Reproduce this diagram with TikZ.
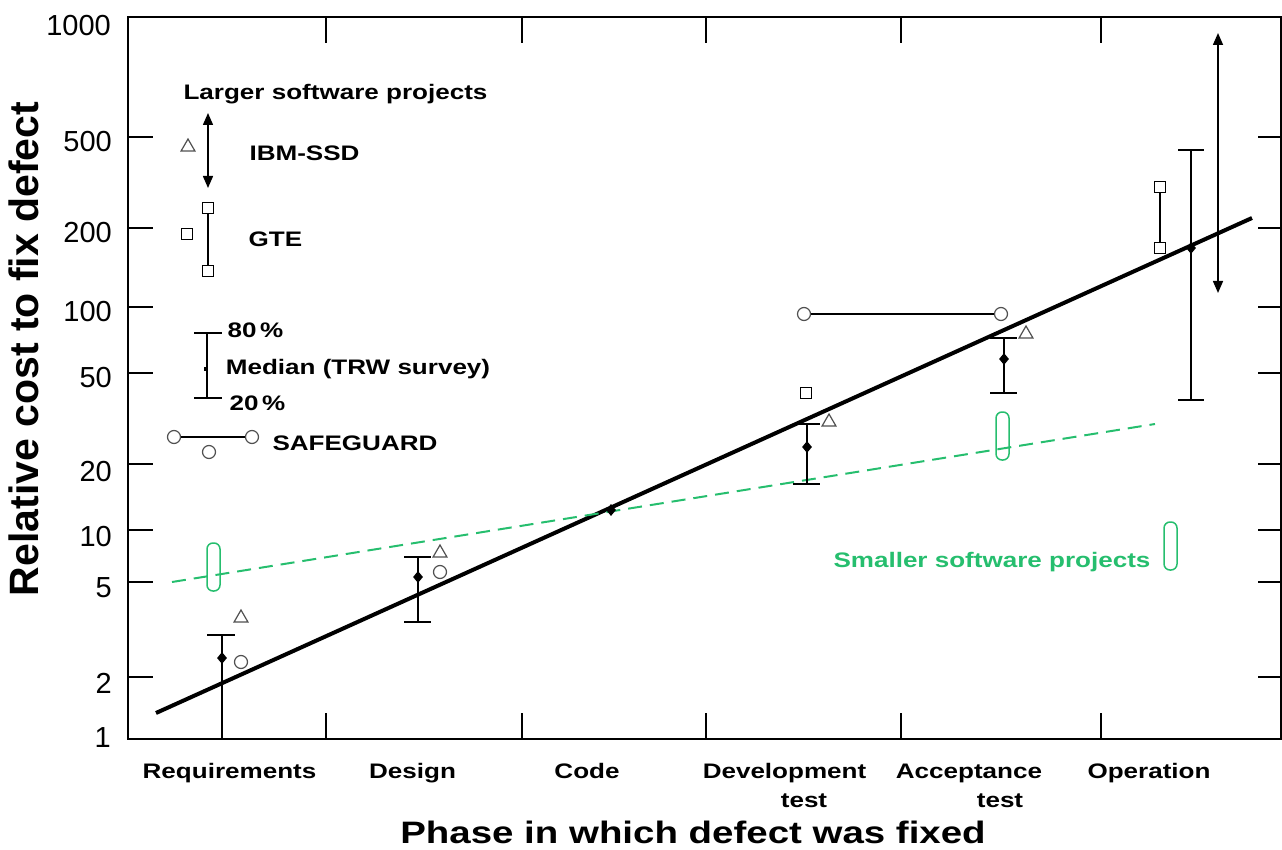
\documentclass[tikz,border=0pt]{standalone}
\usepackage{fontspec}
\setmainfont{Liberation Sans}
\newfontfamily\widefont[FakeStretch=1.24]{Liberation Sans}
\usetikzlibrary{shapes.geometric,arrows.meta}
\definecolor{mygreen}{RGB}{38,190,110}
\definecolor{mkgray}{RGB}{80,80,80}
\tikzset{
  lbl/.style={font=\widefont\bfseries\fontsize{21}{25}\selectfont, inner sep=0pt},
  plbl/.style={lbl, anchor=base},
  ylbl/.style={font=\fontsize{29}{33}\selectfont, inner sep=0pt, anchor=east},
  tri/.style={regular polygon, regular polygon sides=3, draw=mkgray, fill=white, minimum size=16pt, inner sep=0pt, line width=1.2pt},
  sq/.style={rectangle, draw=black, fill=white, minimum size=11pt, inner sep=0pt, line width=1.2pt},
  circ/.style={circle, draw=mkgray, fill=white, minimum size=13pt, inner sep=0pt, line width=1.2pt},
  dia/.style={diamond, fill=black, minimum width=10pt, minimum height=12pt, inner sep=0pt},
  grect/.style={rectangle, draw=mygreen, rounded corners=6pt, minimum width=13pt, minimum height=48pt, inner sep=0pt, line width=1.5pt},
  bar/.style={line width=1.5pt},
  axisline/.style={line width=2pt},
  dbl/.style={line width=1.5pt, {Triangle[length=12pt,width=10pt]}-{Triangle[length=12pt,width=10pt]}}
}
\begin{document}
\begin{tikzpicture}[x=1pt,y=-1pt]
\useasboundingbox (0,0) rectangle (1282,850);
% axes box
\draw[axisline] (128,17) rectangle (1281,739);
% x ticks
\foreach \xx in {326,522,706,901,1101}{
  \draw[axisline] (\xx,17) -- (\xx,43);
  \draw[axisline] (\xx,713) -- (\xx,739);
}
% y ticks
\foreach \yy in {137,228,307,373,464,530,582,677}{
  \draw[axisline] (128,\yy) -- (153,\yy);
  \draw[axisline] (1258,\yy) -- (1281,\yy);
}
% y labels
\node[ylbl] (y1000) at (111,26) {1000};
\node[ylbl] (y500) at (112,142) {500};
\node[ylbl] (y200) at (112,233) {200};
\node[ylbl] (y100) at (112,312) {100};
\node[ylbl] (y50) at (112,378) {50};
\node[ylbl] (y20) at (112,472) {20};
\node[ylbl] (y10) at (112,537) {10};
\node[ylbl] (y5) at (112,588) {5};
\node[ylbl] (y2) at (112,683) {2};
\node[ylbl] (y1) at (111,738) {1};
% axis titles
\node[rotate=90, font=\bfseries\fontsize{41}{48}\selectfont, inner sep=0pt] (ytitle) at (24,349) {Relative cost to fix defect};
\node[font=\widefont\bfseries\fontsize{31}{36}\selectfont, inner sep=0pt, anchor=base] (xtitle) at (693,843) {Phase in which defect was fixed};
% phase labels
\node[plbl] (pReq) at (229.5,778) {Requirements};
\node[plbl] (pDes) at (412.5,778) {Design};
\node[plbl] (pCode) at (587,778) {Code};
\node[plbl] (pDev) at (784.5,778) {Development};
\node[plbl] (pDev2) at (804,807) {test};
\node[plbl] (pAcc) at (969,778) {Acceptance};
\node[plbl] (pAcc2) at (1000,807) {test};
\node[plbl] (pOp) at (1149,778) {Operation};
% trend lines
\coordinate (bl1) at (156,713);
\coordinate (bl2) at (1252,218);
\draw[line width=4pt] (bl1) -- (bl2);
\coordinate (gl1) at (172,582);
\coordinate (gl2) at (1155,424);
\draw[mygreen, line width=2pt, dash pattern=on 14pt off 8pt] (gl1) -- (gl2);
% green rects
\node[grect] (g1) at (213.5,567) {};
\node[grect] (g2) at (1002.5,436) {};
\node[grect] (g3) at (1170.5,546) {};
\node[lbl, text=mygreen] (small) at (992,562) {Smaller software projects};
% ---------- legend ----------
\node[lbl] (larger) at (335.5,94) {Larger software projects};
\coordinate (la1) at (208,113);
\coordinate (la2) at (208,188);
\draw[dbl] (la1) -- (la2);
\node[tri] (ltri) at (188,147) {};
\node[lbl] (ibm) at (304.5,153) {IBM-SSD};
\node[sq] (lsq1) at (208,208) {};
\node[sq] (lsq2) at (208,271) {};
\node[sq] (lsq3) at (187,234) {};
\draw[bar] (lsq1) -- (lsq2);
\node[lbl] (gte) at (275.5,239) {GTE};
% median legend
\coordinate (mT) at (207,333);
\coordinate (mB) at (207,398);
\draw[bar] (mT) -- (mB);
\draw[bar] ([xshift=-13pt]mT) -- ([xshift=15pt]mT);
\draw[bar] ([xshift=-13pt]mB) -- ([xshift=15pt]mB);
\node[fill=black, minimum width=3pt, minimum height=4pt, inner sep=0pt] (mdot) at (205,369) {};
\node[lbl] (p80) at (255.5,330) {80\,\%};
\node[lbl] (med) at (358,369) {Median (TRW survey)};
\node[lbl] (p20) at (257.5,403) {20\,\%};
% safeguard legend
\node[circ] (lc1) at (174,437) {};
\node[circ] (lc2) at (252,437) {};
\node[circ] (lc3) at (209,452) {};
\draw[bar] (lc1) -- (lc2);
\node[lbl] (safe) at (355,443) {SAFEGUARD};
% ---------- data ----------
% Requirements
\coordinate (rT) at (222,635);
\coordinate (rB) at (222,739);
\draw[bar] (rT) -- (rB);
\draw[bar] ([xshift=-15pt]rT) -- ([xshift=13pt]rT);
\node[dia] (rD) at (222,658) {};
\node[tri] (rTri) at (241,618) {};
\node[circ] (rC) at (241,662) {};
% Design
\coordinate (dT) at (418,557);
\coordinate (dB) at (418,622);
\draw[bar] (dT) -- (dB);
\draw[bar] ([xshift=-14pt]dT) -- ([xshift=13pt]dT);
\draw[bar] ([xshift=-14pt]dB) -- ([xshift=13pt]dB);
\node[dia] (dD) at (418,577) {};
\node[tri] (dTri) at (440,553) {};
\node[circ] (dC) at (440,572) {};
% Code
\node[dia] (cD) at (611,510) {};
% Development test
\coordinate (vT) at (807,424);
\coordinate (vB) at (807,484);
\draw[bar] (vT) -- (vB);
\draw[bar] ([xshift=-14pt]vT) -- ([xshift=13pt]vT);
\draw[bar] ([xshift=-14pt]vB) -- ([xshift=13pt]vB);
\node[dia] (vD) at (807,447) {};
\node[tri] (vTri) at (829,422) {};
\node[sq] (vSq) at (806,393) {};
% safeguard pair
\node[circ] (sc1) at (804,314) {};
\node[circ] (sc2) at (1001,314) {};
\draw[bar] (sc1) -- (sc2);
% Acceptance test
\coordinate (aT) at (1004,338);
\coordinate (aB) at (1004,393);
\draw[bar] (aT) -- (aB);
\draw[bar] ([xshift=-14pt]aT) -- ([xshift=13pt]aT);
\draw[bar] ([xshift=-14pt]aB) -- ([xshift=13pt]aB);
\node[dia] (aD) at (1004,359) {};
\node[tri] (aTri) at (1026,334) {};
% Operation
\coordinate (oT) at (1191,150);
\coordinate (oB) at (1191,400);
\draw[bar] (oT) -- (oB);
\draw[bar] ([xshift=-13pt]oT) -- ([xshift=13pt]oT);
\draw[bar] ([xshift=-13pt]oB) -- ([xshift=13pt]oB);
\node[dia] (oD) at (1191,248) {};
\node[sq] (oSq1) at (1160,187) {};
\node[sq] (oSq2) at (1160,248) {};
\draw[bar] (oSq1) -- (oSq2);
% long arrow
\coordinate (ar1) at (1218,33);
\coordinate (ar2) at (1218,293);
\draw[dbl] (ar1) -- (ar2);
\end{tikzpicture}
\end{document}
